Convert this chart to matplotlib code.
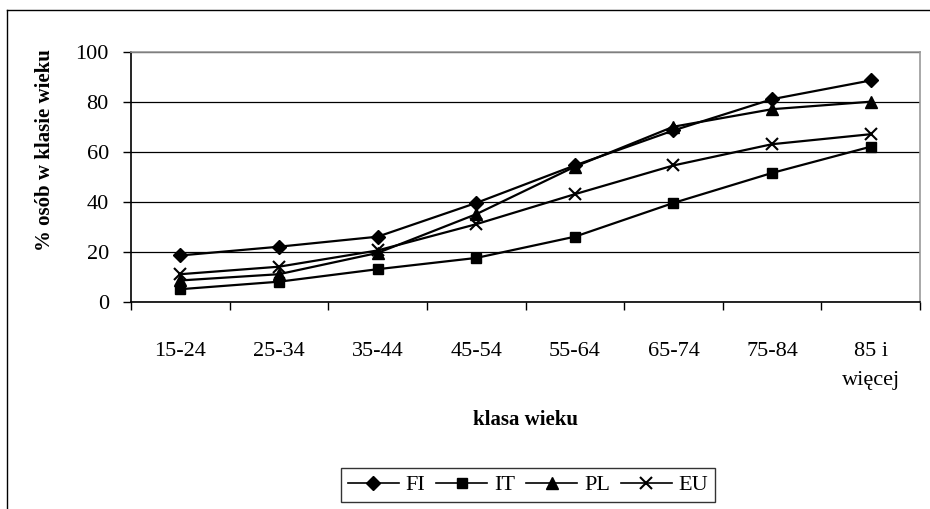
import matplotlib.pyplot as plt
from matplotlib.lines import Line2D
import numpy as np

plt.rcParams['font.family'] = ['Liberation Serif', 'DejaVu Serif']

kategorie = ['15-24', '25-34', '35-44', '45-54', '55-64', '65-74', '75-84', '85 i\nwięcej']
fi = [18.5, 22, 26, 39.5, 54.5, 68.5, 81, 88.5]
it = [5, 8, 13, 17.5, 26, 39.5, 51.5, 62]
pl = [8.5, 11, 19.5, 35, 54, 70, 77, 80]
eu = [11, 14, 20.5, 31, 43, 54.5, 63, 67]

fig = plt.figure(figsize=(9.3, 5.09), dpi=100)
ax = fig.add_axes([131 / 930, 1 - 301.7 / 509, (920 - 131) / 930, 250 / 509])

x = np.arange(len(kategorie))
ax.plot(x, fi, color='black', lw=1.6, marker='D', ms=7, label='FI')
ax.plot(x, it, color='black', lw=1.6, marker='s', ms=7.5, label='IT')
ax.plot(x, pl, color='black', lw=1.6, marker='^', ms=9, label='PL')
ax.plot(x, eu, color='black', lw=1.6, marker='x', ms=9, mew=1.5, label='EU')

ax.set_xlim(-0.5, len(kategorie) - 0.5)
ax.set_ylim(0, 100)
ax.set_yticks([0, 20, 40, 60, 80, 100])
ax.yaxis.grid(True, color='black', lw=0.9)
ax.set_axisbelow(True)

ax.set_xticks(x)
ax.set_xticklabels(kategorie, fontsize=16, linespacing=1.75, va='top')
ax.set_xticks(np.arange(-0.5, len(kategorie)), minor=True)
ax.tick_params(axis='x', which='major', length=0, pad=29)
ax.tick_params(axis='x', which='minor', length=6, width=1, direction='out')
ax.tick_params(axis='y', length=6, width=1, direction='out', pad=10, labelsize=16)

for s in ['top', 'right']:
    ax.spines[s].set_color('#999999')
    ax.spines[s].set_linewidth(1.2)
for s in ['left', 'bottom']:
    ax.spines[s].set_color('black')
    ax.spines[s].set_linewidth(1.2)

ax.set_ylabel('% osób w klasie wieku', fontsize=15, fontweight='bold')
ax.yaxis.set_label_coords(55 / 930, 1 - 150 / 509, transform=fig.transFigure)
ax.set_xlabel('klasa wieku', fontsize=15, fontweight='bold', labelpad=14)

leg = ax.legend(loc='center', bbox_to_anchor=(528 / 930, 1 - 485 / 509),
                bbox_transform=fig.transFigure, ncol=4, fontsize=16,
                frameon=True, fancybox=False, handlelength=2.3,
                handletextpad=0.3, columnspacing=0.5, borderpad=0.3)
leg.get_frame().set_edgecolor('black')
leg.get_frame().set_linewidth(1)
for h in leg.get_lines():
    h.set_linewidth(1.2)

# ramka wykresu
fig.add_artist(Line2D([7 / 930, 7 / 930], [0, 1 - 10 / 509], color='black', lw=1))
fig.add_artist(Line2D([7 / 930, 1], [1 - 10 / 509, 1 - 10 / 509], color='black', lw=1))

fig.savefig('out.png', dpi=100)
